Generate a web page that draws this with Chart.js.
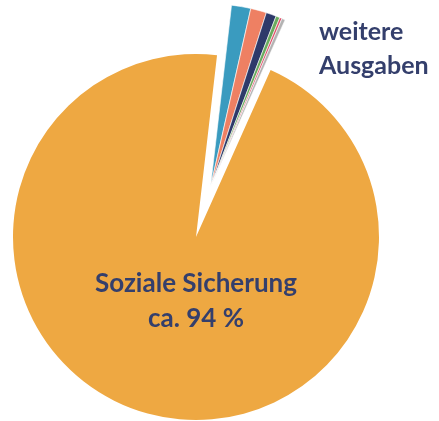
<!DOCTYPE html>
<html lang="de">
<head>
<meta charset="utf-8">
<script src="https://cdn.jsdelivr.net/npm/chart.js@4.4.1/dist/chart.umd.min.js"></script>
<style>
  html, body { margin: 0; padding: 0; background: #fff; }
  #wrap { position: relative; width: 439px; height: 421px; overflow: hidden; }
  #wrap canvas { position: absolute; left: 0; top: 0; }
  .lbl {
    position: absolute;
    font-family: Lato, sans-serif;
    font-weight: 700;
    color: #343f6c;
    font-size: 26px;
    line-height: 35px;
    white-space: nowrap;
  }
  #mainLabel { left: 46px; width: 300px; top: 265px; text-align: center; }
  #otherLabel { left: 319px; top: 13px; line-height: 34px; font-size: 25px; }
</style>
</head>
<body>
<div id="wrap">
  <canvas id="baseChart" width="439" height="421"></canvas>
  <canvas id="explodedChart" width="439" height="421"></canvas>
  <div class="lbl" id="mainLabel">Soziale Sicherung<br>ca. 94 %</div>
  <div class="lbl" id="otherLabel">weitere<br>Ausgaben</div>
</div>
<script>
// shares in percent, clockwise starting a bit right of 12 o'clock
const categories = [
  'Ausgabe 1',
  'Ausgabe 2',
  'Ausgabe 3',
  'Ausgabe 4',
  'Ausgabe 5',
  'Ausgabe 6',
  'Soziale Sicherung'
]
const shares = [1.7, 1.4, 0.9, 0.35, 0.2, 0.3, 95.15]
const sliceColors = [
  '#3a9bbf',
  '#ee8063',
  '#2e3a6a',
  '#6aab5e',
  '#e0506a',
  '#b3b3b3',
  '#eea842'
]
// the small slices are pulled out together, the big one stays put
const pulledOut = [true, true, true, true, true, true, false]

function makePie(canvasId, showPulled, padding) {
  const ctx = document.getElementById(canvasId)
  return new Chart(ctx, {
    type: 'pie',
    data: {
      labels: categories,
      datasets: [
        {
          data: shares,
          backgroundColor: sliceColors.map((c, i) =>
            pulledOut[i] === showPulled ? c : 'rgba(0,0,0,0)'
          ),
          borderColor: pulledOut.map((p) =>
            p === showPulled ? '#ffffff' : 'rgba(0,0,0,0)'
          ),
          borderWidth: showPulled ? 0.6 : 0,
          clip: false
        }
      ]
    },
    options: {
      responsive: false,
      animation: false,
      rotation: 6.6,
      radius: 183,
      layout: { padding: padding },
      plugins: {
        legend: { display: false },
        tooltip: { enabled: false },
        title: { display: false }
      }
    }
  })
}

makePie('baseChart', false, { left: 0, right: 47, top: 53, bottom: 0 })
makePie('explodedChart', true, { left: 0, right: 18, top: 0, bottom: 47 })
</script>
</body>
</html>
